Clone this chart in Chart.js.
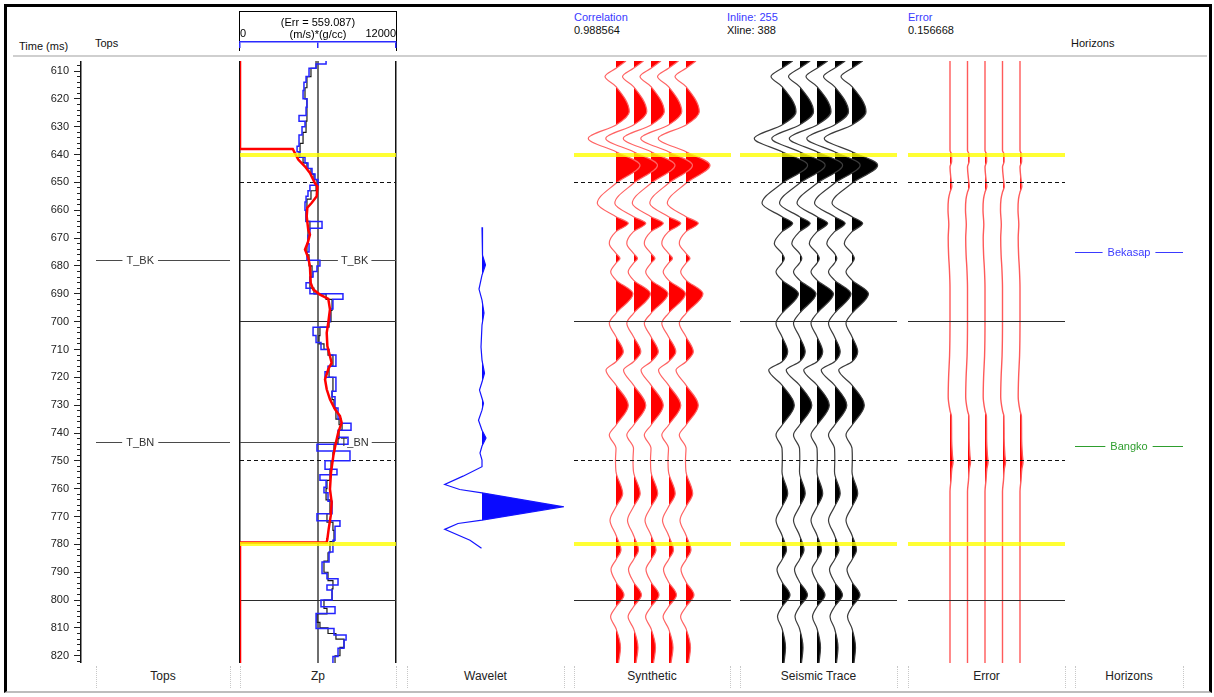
<!DOCTYPE html>
<html>
<head>
<meta charset="utf-8">
<title>Well tie</title>
<script src="https://cdn.jsdelivr.net/npm/chart.js@4.4.1/dist/chart.umd.min.js"></script>
<style>
  html, body { margin:0; padding:0; background:#fff; }
  #stage { position:relative; width:1214px; height:697px; overflow:hidden; font-family:"Liberation Sans", Arial, sans-serif; font-size:11px; color:#111; }
  .t { position:absolute; white-space:nowrap; line-height:12px; }
  .blue { color:#3a3aff; }
  canvas { position:absolute; }
  .sep { position:absolute; top:666px; height:22px; border-left:1px dotted #c8c8c8; }
  .foot { position:absolute; top:669px; font-size:12px; line-height:14px; white-space:nowrap; transform:translateX(-50%); color:#222; }
  #frame { position:absolute; left:4px; top:4px; width:1202px; height:684px; border-left:3px solid #000; border-top:3px solid #000; border-right:3px solid #000; border-bottom:2px solid #bdbdbd; }
  #hsep { position:absolute; left:13px; top:55px; width:1194px; border-top:2px solid #cfcfcf; }
  #zpbox { position:absolute; left:239px; top:11px; width:156px; height:39px; border-top:1px solid #000; border-left:1px solid #000; border-right:1px solid #000; }
</style>
</head>
<body>
<div id="stage">
  <div id="frame"></div>
  <div id="hsep"></div>
  <div id="zpbox"></div>
  <div class="t" style="left:19px;top:40px;">Time (ms)</div>
  <div class="t" style="left:95px;top:37px;">Tops</div>
  <div class="t blue" id="corrLbl" style="left:574px;top:11px;">Correlation</div>
  <div class="t" id="corrVal" style="left:574px;top:24px;"></div>
  <div class="t blue" id="inlineLbl" style="left:727px;top:11px;"></div>
  <div class="t" id="xlineLbl" style="left:727px;top:24px;"></div>
  <div class="t blue" style="left:908px;top:11px;">Error</div>
  <div class="t" id="errVal" style="left:908px;top:24px;"></div>
  <div class="t" style="left:1071px;top:37px;">Horizons</div>
</div>
<script>
// ===================== DATA =====================
const timeRange = [606.4, 822.6];
const timeTicks = [610, 620, 630, 640, 650, 660, 670, 680, 690, 700, 710, 720, 730, 740, 750, 760, 770, 780, 790, 800, 810, 820];
const timeMinorStep = 2;

const topNames = ['T_BK', 'T_BN'];
const topTimes = [678, 743.5];

const horizonNames = ['Bekasap', 'Bangko'];
const horizonTimes = [675, 744.9];
const horizonColors = ['#3a3aff', '#2e9e2e'];

const markerYellowTimes = [640, 780];
const markerDashedTimes = [650, 750];
const markerSolidTimes = [700, 800];

const zpRange = [0, 12000];
const zpTicks = [0, 6000, 12000];
const zpError = 559.087;
const zpUnit = '(m/s)*(g/cc)';

const correlation = '0.988564';
const inlineNo = 255;
const xlineNo = 388;
const errorValue = '0.156668';

const zpModelTime  = [606.4, 638, 638, 641.8, 644.3, 646.6, 650.3, 651.4, 655, 657.3, 659.1, 662.2, 667, 668.7, 671.7, 674.1, 677.1, 680.1, 686.1, 688.5, 690.3, 691.8, 695.6, 700.4, 704, 708.8, 712.4, 714.8, 717.1, 720.7, 724.3, 727.9, 731.5, 733.9, 736.3, 739.8, 743.4, 748.2, 754.2, 760.2, 764.9, 769.7, 774.5, 778.1, 779.3, 779.3, 822.6];
const zpModelValue = [0, 0, 4060, 4480, 5000, 5380, 5770, 5950, 5900, 5520, 5180, 5130, 5250, 5380, 5210, 5000, 5250, 5380, 5440, 5640, 6150, 6790, 6920, 6790, 6670, 6720, 6920, 7050, 6790, 6540, 6670, 6920, 7310, 7690, 7820, 7560, 7380, 7180, 7000, 6920, 7050, 6980, 6820, 6720, 6670, 0, 0];

const zpBlueTime  = [606.4, 607.5, 609, 612, 614, 617, 620, 623, 626, 628, 630, 633, 637, 639, 641, 643, 645, 647, 649, 651, 653, 655, 657, 660, 664, 666.5, 669, 672, 675, 678, 680, 682, 684, 686, 688, 690, 692, 695.5, 700, 702, 705, 707.5, 710, 712, 716, 718, 720, 725, 727, 731, 735, 736.5, 739, 741.5, 744, 746.5, 750, 753, 755, 757, 759.5, 761.5, 764.5, 769, 771.5, 773.5, 778.5, 782.7, 786.3, 790.5, 792.3, 794.6, 796.4, 800, 802.4, 804.8, 810.2, 812.5, 814.3, 817.3, 820.3, 822.6];
const zpBlueValue = [6620, 5850, 5310, 5080, 4920, 4850, 5150, 5080, 4540, 5000, 4770, 4540, 4390, 4620, 5000, 5230, 5540, 5770, 6000, 5380, 5230, 5080, 5000, 5080, 6310, 5380, 5230, 5310, 5150, 6150, 5920, 5620, 5380, 5080, 5380, 7920, 7150, 6920, 6770, 5620, 5850, 6230, 6850, 7380, 6770, 6540, 7380, 7080, 7310, 7540, 7770, 8540, 7540, 8310, 5920, 8460, 6540, 7460, 6150, 6620, 6460, 6770, 7080, 5920, 7690, 7310, 7150, 6850, 6310, 6690, 7540, 6690, 7080, 6230, 7310, 5850, 7230, 8160, 8000, 7540, 7150, 7150];

const zpBlackTime  = [606.4, 609, 612, 616, 620, 624, 628, 632, 636, 639, 641, 643, 645, 647, 649, 651, 653, 656, 660, 664, 667, 672, 676, 680, 684, 688, 690, 692, 696, 700, 702, 705, 708, 710, 712, 716, 720, 725, 728, 731, 735, 737, 739, 742, 744, 747, 750, 753, 757, 760, 764, 769, 772, 775, 779, 783, 786, 790, 793, 796, 800, 803, 805, 808, 810, 812, 814, 817, 820, 822.6];
const zpBlackValue = [5850, 5460, 5150, 5000, 5150, 5150, 5080, 4850, 4620, 4540, 4850, 5150, 5460, 5690, 5920, 5850, 5460, 5150, 5080, 5380, 5230, 5150, 5310, 5540, 5380, 5690, 6620, 7080, 7000, 6850, 6150, 6080, 6460, 6770, 7150, 6850, 7150, 7080, 7230, 7380, 7620, 7850, 7620, 7540, 7230, 7150, 7000, 6920, 6690, 6620, 6920, 6690, 7150, 7230, 6920, 6770, 6460, 6770, 7150, 7080, 6460, 6690, 5920, 6150, 6770, 7380, 8000, 7690, 7310, 7310];

const waveletTime = [666.1, 676.1, 679.7, 683.3, 688.3, 692.3, 696.9, 701.2, 709.1, 713.8, 718.5, 721.7, 724.6, 727.5, 729.3, 731.8, 735.4, 739, 741.8, 744.7, 747.2, 749.7, 752.1, 755.5, 758.5, 760.3, 761.5, 766.5, 771.3, 772.5, 774.6, 778.5, 781.4];
const waveletAmp  = [0, 0.5, 3.5, 0, -3, 0, 2, 0, -1, 0, 2.5, 0, -2.5, 0, 1.5, 0, -3.5, 0, 4, 0, -2, 0, 0, -19, -37.3, -22.3, 0, 81, 0, -24, -37.3, -12, -0.5];

const traceTime    = [606.4, 609, 612, 615.6, 624.6, 629.4, 634.2, 639, 643.8, 650.3, 657.5, 662.3, 664.7, 667.7, 671.9, 675.5, 677.3, 679, 682.1, 685.1, 690, 697, 700.6, 705.4, 710.8, 714.4, 717.4, 722.8, 730, 737.2, 740.7, 745.5, 749.5, 753.9, 761.7, 766.5, 771.3, 776.7, 782, 785.5, 789, 793.5, 798.2, 802.4, 806, 810.2, 817, 822.6];
const syntheticAmp = [10, 0, -11, 0, 13.3, 0, -27.7, 0, 24, 0, -18.7, 0, 12.3, 0, -6.7, 0, 4, 0, -5.3, 0, 17, 0, -6.7, 0, 7.3, 0, -10, 0, 12.3, 0, -6.7, 0, -0.5, 0, 6.7, 0, -6, 0, 5, 0, -5, 0, 8, 0, -5.4, 0, 4.5, 2.5];
const seismicAmp   = [10.7, 0, -11, 0, 14, 0, -27.7, 0, 25.6, 0, -20, 0, 10.7, 0, -7.7, 0, 2.3, 0, -6, 0, 16.5, 0, -6, 0, 5.7, 0, -13.3, 0, 12.3, 0, -6, 0, 0.3, 0, 5.7, 0, -6, 0, 4.5, 0, -5, 0, 8, 0, -4.5, 0, 3.5, 2];

const errorTime = [606.4, 638.5, 640, 642.5, 644.5, 649.5, 651.5, 653.5, 656, 660, 665, 670, 676, 681, 688, 700, 712, 720, 727, 732, 734, 742, 748, 750.5, 753, 757, 761, 770, 822.6];
const errorAmp  = [0, 0, 1.6, 1.6, 0, 1.2, 1.8, 0, -1.5, -2, -1.2, -1.8, -1.4, -0.6, 0, 0, -0.4, -1.4, -1.8, 0, 1.4, 1.6, 2.4, 3, 1.8, 1, 0, 0, 0];

const traceCount = 5;

const footerNames = ['Tops', 'Zp', 'Wavelet', 'Synthetic', 'Seismic Trace', 'Error', 'Horizons'];

// ===================== LAYOUT / STYLE =====================
const FONT = '"Liberation Sans", Arial, sans-serif';
Chart.defaults.font.family = FONT;
const PLOT_TOP = 61, PLOT_H = 602;
const traceSpacing = 17.5;
const traceXRange = [-42, 115];
const footerCols = [[96, 230], [240, 396], [407, 564], [574, 730], [740, 897], [908, 1065], [1075, 1183]];

document.getElementById('corrVal').textContent = correlation;
document.getElementById('inlineLbl').textContent = 'Inline: ' + inlineNo;
document.getElementById('xlineLbl').textContent = 'Xline: ' + xlineNo;
document.getElementById('errVal').textContent = errorValue;

const stage = document.getElementById('stage');
footerCols.forEach((c, i) => {
  [c[0], c[1]].forEach(x => { const d = document.createElement('div'); d.className = 'sep'; d.style.left = x + 'px'; stage.appendChild(d); });
  const f = document.createElement('div'); f.className = 'foot'; f.style.left = ((c[0] + c[1]) / 2) + 'px'; f.textContent = footerNames[i]; stage.appendChild(f);
});

function addCanvas(left, top, w, h) {
  const c = document.createElement('canvas');
  c.width = w; c.height = h;
  c.style.left = left + 'px'; c.style.top = top + 'px';
  c.style.width = w + 'px'; c.style.height = h + 'px';
  stage.appendChild(c);
  return c.getContext('2d');
}

function pairs(xs, ts) { return ts.map((t, i) => ({x: xs[i], y: t})); }

// ---------- plugins ----------
function hLine(ctx, x0, x1, py, color, width, dash) {
  ctx.save(); ctx.beginPath(); ctx.setLineDash(dash || []); ctx.strokeStyle = color; ctx.lineWidth = width;
  ctx.moveTo(x0, py); ctx.lineTo(x1, py); ctx.stroke(); ctx.restore();
}
function pix(scale, t, w) { const p = scale.getPixelForValue(t); return (w % 2 === 1) ? Math.floor(p) + 0.5 : Math.round(p); }

function labelGeom(chart, L, it) {
  const a = chart.chartArea, ys = chart.scales.y;
  const x0 = a.left + (L.inset0 || 0), x1 = a.right - (L.inset1 || 0);
  const py = pix(ys, it.time, 1);
  const cx = x0 + (x1 - x0) * L.labelAt;
  return {x0, x1, py, cx};
}
function drawLabelLines(chart, L) {
  const ctx = chart.ctx;
  ctx.save(); ctx.font = '11px ' + FONT;
  L.items.forEach(it => {
    const g = labelGeom(chart, L, it);
    const w = ctx.measureText(it.text).width;
    hLine(ctx, g.x0, g.cx - w / 2 - L.gap, g.py, it.color, 1);
    hLine(ctx, g.cx + w / 2 + L.gap, g.x1, g.py, it.color, 1);
  });
  ctx.restore();
}
function drawLabelTexts(chart, L) {
  const ctx = chart.ctx;
  ctx.save(); ctx.font = '11px ' + FONT; ctx.textBaseline = 'middle'; ctx.textAlign = 'center';
  L.items.forEach(it => {
    const g = labelGeom(chart, L, it);
    ctx.fillStyle = it.textColor || it.color;
    ctx.fillText(it.text, g.cx, g.py);
  });
  ctx.restore();
}
function drawBase(chart, o) {
  const ctx = chart.ctx, a = chart.chartArea, ys = chart.scales.y;
  if (o.guides) {
    markerSolidTimes.forEach(t => hLine(ctx, a.left, a.right, pix(ys, t, 1), '#2b2b2b', 1));
    markerDashedTimes.forEach(t => hLine(ctx, a.left, a.right, pix(ys, t, 1), '#111', 1, [4, 3]));
  }
  if (o.labelled) drawLabelLines(chart, o.labelled);
}
function drawTop(chart, o) {
  const ctx = chart.ctx, a = chart.chartArea, ys = chart.scales.y;
  if (o.labelled) drawLabelTexts(chart, o.labelled);
  if (o.guides) markerYellowTimes.forEach(t => hLine(ctx, a.left, a.right, pix(ys, t, 4), 'rgba(255,255,0,0.8)', 4));
}
const overlays = {
  id: 'overlays',
  defaults: {},
  beforeDatasetsDraw(chart, args, o) { if (o.under) drawBase(chart, o); },
  afterDatasetsDraw(chart, args, o) { if (!o.under) drawBase(chart, o); drawTop(chart, o); }
};

const positiveFill = {
  id: 'positiveFill',
  beforeDatasetDraw(chart, args) {
    const ds = chart.data.datasets[args.index];
    if (ds.fillPositive === undefined) return;
    const meta = args.meta, line = meta.dataset, pts = meta.data;
    if (!line || pts.length < 2) return;
    line.updateControlPoints(chart.chartArea, meta.iScale.axis);
    const a = chart.chartArea, ctx = chart.ctx;
    const base = Math.round(chart.scales.x.getPixelForValue(ds.fillPositive));
    ctx.save();
    ctx.beginPath(); ctx.rect(base, a.top, a.right - base, a.bottom - a.top); ctx.clip();
    ctx.beginPath();
    line.path(ctx);
    ctx.lineTo(base - 2, pts[pts.length - 1].y);
    ctx.lineTo(base - 2, pts[0].y);
    ctx.closePath();
    ctx.fillStyle = ds.fillColor;
    ctx.fill();
    ctx.restore();
  }
};

const yHidden = () => ({type: 'linear', min: timeRange[0], max: timeRange[1], reverse: true, display: false});

function trackChart(ctx, xScale, datasets, overlayOpts, padding) {
  return new Chart(ctx, {
    type: 'line',
    data: {datasets},
    options: {
      responsive: false, animation: false, devicePixelRatio: 1, events: [], indexAxis: 'y',
      layout: {padding: padding || 0},
      scales: {x: xScale, y: yHidden()},
      elements: {point: {radius: 0}},
      plugins: {legend: {display: false}, tooltip: {enabled: false}, overlays: overlayOpts || {}}
    },
    plugins: [positiveFill, overlays]
  });
}

const topItems = topNames.map((n, i) => ({text: n, time: topTimes[i], color: '#4a4a4a', textColor: '#333'}));
const horizonItems = horizonNames.map((n, i) => ({text: n, time: horizonTimes[i], color: horizonColors[i]}));

// ---------- time axis + tops ----------
new Chart(addCanvas(0, PLOT_TOP, 232, PLOT_H), {
  type: 'line',
  data: {datasets: []},
  options: {
    responsive: false, animation: false, devicePixelRatio: 1, events: [],
    layout: {padding: 0},
    scales: {
      x: {type: 'linear', min: 0, max: 1, display: false},
      y: {
        type: 'linear', position: 'left', min: timeRange[0], max: timeRange[1], reverse: true, weight: 1,
        afterBuildTicks(s) { s.ticks = timeTicks.map(v => ({value: v})); },
        ticks: {padding: 5, color: '#222', font: {size: 11, family: FONT}, callback: v => String(v), autoSkip: false},
        grid: {drawOnChartArea: false, drawTicks: true, tickLength: 7, color: '#222', tickWidth: 1},
        border: {display: true, color: '#111', width: 1.5},
        afterFit(s) { s.width = 81; s.paddingTop = 0; s.paddingBottom = 0; }
      },
      yMinor: {
        type: 'linear', position: 'left', min: timeRange[0], max: timeRange[1], reverse: true, weight: 0,
        ticks: {display: false, stepSize: timeMinorStep, includeBounds: false},
        grid: {drawOnChartArea: false, drawTicks: true, tickLength: 4, color: '#222'},
        border: {display: false},
        afterFit(s) { s.width = 0; s.paddingTop = 0; s.paddingBottom = 0; }
      }
    },
    plugins: {legend: {display: false}, tooltip: {enabled: false},
      overlays: {labelled: {items: topItems, inset0: 15, inset1: 2, labelAt: 0.33, gap: 4}}}
  },
  plugins: [overlays]
});

// ---------- Zp header axis ----------
new Chart(addCanvas(238, 12, 160, 38), {
  type: 'line',
  data: {datasets: []},
  options: {
    responsive: false, animation: false, devicePixelRatio: 1, events: [],
    layout: {padding: {left: 2, right: 2, top: 0, bottom: 0}},
    scales: {
      x: {
        type: 'linear', position: 'bottom', min: zpRange[0], max: zpRange[1],
        afterBuildTicks(s) { s.ticks = zpTicks.map(v => ({value: v})); },
        ticks: {mirror: true, align: 'inner', padding: 1, maxRotation: 0, autoSkip: false, color: '#000', font: {size: 11, family: FONT},
          callback: v => (v === zpRange[0] || v === zpRange[1]) ? String(v) : ''},
        grid: {drawOnChartArea: false, drawTicks: true, tickLength: 6, color: '#2a2aff', lineWidth: 1.5},
        border: {display: true, color: '#2a2aff', width: 1.5},
        afterFit(s) { s.height = 8; s.paddingLeft = 0; s.paddingRight = 0; }
      },
      y: {display: false, min: 0, max: 1}
    },
    plugins: {legend: {display: false}, tooltip: {enabled: false},
      title: {display: true, text: ['(Err = ' + zpError + ')', zpUnit], color: '#000',
        font: {size: 11, family: FONT, weight: 'normal', lineHeight: 1.1}, padding: {top: 5, bottom: 0}}}
  }
});

// ---------- Zp track ----------
trackChart(addCanvas(238, PLOT_TOP, 160, PLOT_H), {
    type: 'linear', position: 'bottom', min: zpRange[0], max: zpRange[1], display: true,
    afterBuildTicks(s) { s.ticks = zpTicks.map(v => ({value: v})); },
    ticks: {display: false},
    grid: {drawOnChartArea: true, drawTicks: false,
      color: c => (c.tick && c.tick.value === zpTicks[1]) ? '#6e6e6e' : '#111',
      lineWidth: c => (c.tick && c.tick.value === zpTicks[1]) ? 2 : 1.5},
    border: {display: false},
    afterFit(s) { s.height = 0; }
  }, [
    {data: pairs(zpModelValue, zpModelTime), borderColor: '#ff0000', borderWidth: 2.5, tension: 0, pointRadius: 0},
    {data: pairs(zpBlueValue, zpBlueTime), borderColor: '#2424ff', borderWidth: 1.5, stepped: 'after', pointRadius: 0},
    {data: pairs(zpBlackValue, zpBlackTime), borderColor: '#1a1a1a', borderWidth: 1.2, stepped: 'after', pointRadius: 0}
  ], {guides: true, under: true, labelled: {items: topItems, inset0: 0, inset1: 0, labelAt: 0.735, gap: 3}},
  {left: 2, right: 2, top: 0, bottom: 0});

// ---------- Wavelet ----------
trackChart(addCanvas(407, PLOT_TOP, 157, PLOT_H), {type: 'linear', min: -75, max: 82, display: false}, [
  {data: pairs(waveletAmp, waveletTime), borderColor: '#1414ff', borderWidth: 1.2, tension: 0, pointRadius: 0, fillPositive: 0, fillColor: '#0a0aff'}
], {});

// ---------- wiggle traces ----------
function traces(amp, times, line, fill, width) {
  const out = [];
  for (let k = 0; k < traceCount; k++) {
    const off = k * traceSpacing;
    out.push({data: times.map((t, i) => ({x: off + amp[i], y: t})), borderColor: line, borderWidth: width,
      cubicInterpolationMode: 'monotone', pointRadius: 0, fillPositive: off, fillColor: fill});
  }
  return out;
}
const traceX = () => ({type: 'linear', min: traceXRange[0], max: traceXRange[1], display: false});

trackChart(addCanvas(574, PLOT_TOP, 157, PLOT_H), traceX(), traces(syntheticAmp, traceTime, '#ff6464', '#ff0000', 1.2), {guides: true});
trackChart(addCanvas(740, PLOT_TOP, 157, PLOT_H), traceX(), traces(seismicAmp, traceTime, '#3c3c3c', '#000000', 1.2), {guides: true});
trackChart(addCanvas(908, PLOT_TOP, 157, PLOT_H), traceX(), traces(errorAmp, errorTime, '#ff5a5a', '#ff0000', 1.4), {guides: true});

// ---------- Horizons ----------
trackChart(addCanvas(1075, PLOT_TOP, 108, PLOT_H), {type: 'linear', min: 0, max: 1, display: false}, [],
  {labelled: {items: horizonItems, inset0: 0, inset1: 0, labelAt: 0.5, gap: 5}});
</script>
</body>
</html>
